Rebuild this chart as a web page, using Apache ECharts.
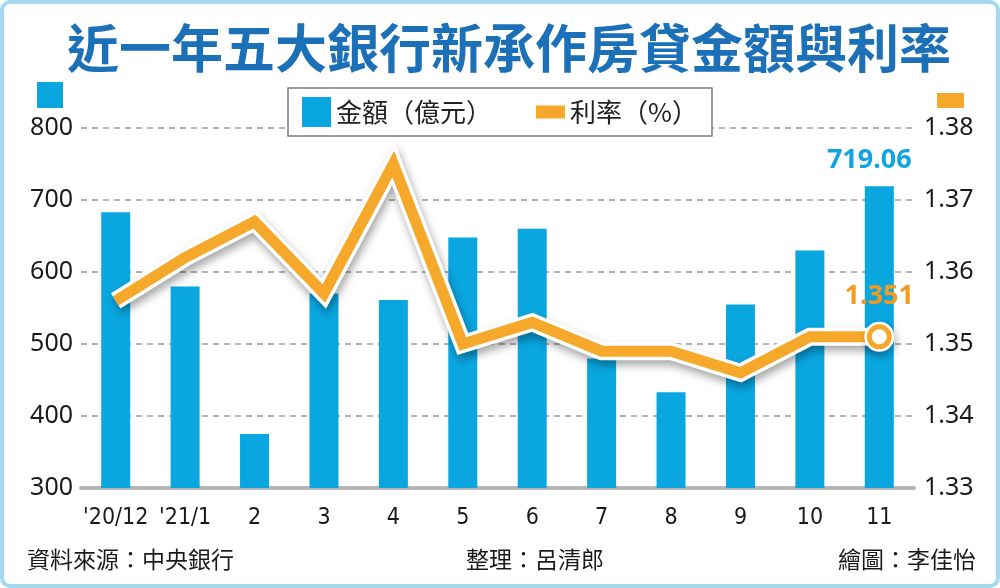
<!DOCTYPE html>
<html>
<head>
<meta charset="utf-8">
<script src="https://cdn.jsdelivr.net/npm/echarts@6/dist/echarts.min.js"></script>
<style>
  html, body { margin: 0; padding: 0; background: #fff; }
  #chart { width: 1000px; height: 588px; }
</style>
</head>
<body>
<div id="chart"></div>
<script>
// 月份
var months = ["'20/12", "'21/1", '2', '3', '4', '5', '6', '7', '8', '9', '10', '11'];
// 金額(億元)
var amount = [683, 580, 375, 570, 561, 648, 660, 480, 433, 555, 630, 719.06];
// 利率(%)
var rate = [1.356, 1.362, 1.367, 1.357, 1.375, 1.350, 1.353, 1.349, 1.349, 1.346, 1.351, 1.351];

var blue = '#0aa6e0';
var orange = '#f6a82a';
var numFont = "'Noto Sans', sans-serif";
var narrowFont = "'DejaVu Sans Condensed', 'Noto Sans', sans-serif";
var cjkFont = "'Noto Sans CJK TC', 'Noto Sans CJK SC', sans-serif";
var last = months.length - 1;

var option = {
    animation: false,
    title: {
        text: '近一年五大銀行新承作房貸金額與利率',
        left: 62,
        top: 17,
        textStyle: {
            color: '#1c70b8',
            fontSize: 52,
            fontWeight: 'bold',
            fontFamily: cjkFont
        }
    },
    legend: {
        left: 'center',
        top: 88,
        padding: [9, 14],
        itemWidth: 29,
        itemHeight: 30,
        itemGap: 44,
        symbolKeepAspect: true,
        backgroundColor: '#fff',
        borderColor: '#7a7a7a',
        borderWidth: 1.5,
        textStyle: { fontSize: 26, color: '#222', fontFamily: cjkFont },
        data: [
            { name: '金額（億元）', icon: 'rect', itemStyle: { color: blue } },
            { name: '利率（%）', icon: 'path://M0,0H29V13H0Z', itemStyle: { color: orange } }
        ]
    },
    grid: { left: 81, right: 86, top: 128, bottom: 100 },
    xAxis: {
        type: 'category',
        data: months,
        axisLine: { lineStyle: { color: '#b5b5b5', width: 4 } },
        axisTick: { alignWithLabel: true, length: 11, lineStyle: { color: '#b0b0b0', width: 2 } },
        axisLabel: { interval: 0, color: '#1a1a1a', fontSize: 23, margin: 19, fontFamily: narrowFont }
    },
    yAxis: [
        {
            type: 'value',
            min: 300, max: 800, interval: 100,
            axisLabel: { color: '#1a1a1a', fontSize: 25, margin: 8, fontFamily: numFont },
            splitLine: { lineStyle: { color: '#999', width: 1.5, type: [6, 5] } }
        },
        {
            type: 'value',
            min: 1.33, max: 1.38, interval: 0.01,
            axisLabel: {
                color: '#1a1a1a', fontSize: 25, margin: 10, fontFamily: numFont,
                formatter: function (v) { return v.toFixed(2); }
            },
            splitLine: { show: false }
        }
    ],
    series: [
        {
            name: '金額（億元）',
            type: 'bar',
            barWidth: 29,
            itemStyle: { color: blue },
            data: amount.map(function (v, i) {
                if (i !== last) return v;
                return {
                    value: v,
                    label: {
                        show: true, position: 'top', distance: 12, offset: [-10, 0],
                        color: '#12a4df', fontSize: 27, fontWeight: 'bold', fontFamily: numFont
                    }
                };
            })
        },
        {
            // 白色外框 + 陰影
            name: 'outline',
            type: 'line',
            yAxisIndex: 1,
            symbol: 'none',
            silent: true,
            lineStyle: {
                color: '#fff', width: 18, join: 'miter', miterLimit: 6,
                shadowColor: 'rgba(0,0,0,0.35)', shadowBlur: 9, shadowOffsetX: 2, shadowOffsetY: 5
            },
            data: rate.map(function (v, i) {
                if (i !== last) return v;
                return {
                    value: v, symbol: 'circle', symbolSize: 30,
                    itemStyle: { color: '#fff', shadowColor: 'rgba(0,0,0,0.3)', shadowBlur: 8, shadowOffsetX: 2, shadowOffsetY: 4 }
                };
            })
        },
        {
            name: '利率（%）',
            type: 'line',
            yAxisIndex: 1,
            symbol: 'none',
            lineStyle: { color: orange, width: 11, join: 'miter', miterLimit: 6 },
            itemStyle: { color: orange },
            data: rate.map(function (v, i) {
                if (i !== last) return v;
                return {
                    value: v, symbol: 'circle', symbolSize: 20,
                    itemStyle: { color: '#fff', borderColor: orange, borderWidth: 5 },
                    label: {
                        show: true, position: 'top', distance: 14,
                        color: '#f39a1f', fontSize: 27, fontWeight: 'bold', fontFamily: numFont,
                        formatter: function (p) { return p.value.toFixed(3); }
                    }
                };
            })
        }
    ],
    graphic: [
        {
            type: 'rect', z: -10, silent: true,
            shape: { x: 2, y: 2, width: 996, height: 584, r: 8 },
            style: { fill: '#fff', stroke: '#a5d9f2', lineWidth: 4 }
        },
        // 軸名稱色塊
        { type: 'rect', shape: { x: 37, y: 82, width: 26, height: 26 }, style: { fill: blue } },
        { type: 'rect', shape: { x: 937, y: 93, width: 27, height: 15 }, style: { fill: orange } },
        {
            type: 'text', left: 27, top: 548,
            style: { text: '資料來源：中央銀行', fontSize: 23, fill: '#1a1a1a', fontFamily: cjkFont }
        },
        {
            type: 'text', left: 466, top: 548,
            style: { text: '整理：呂清郎', fontSize: 23, fill: '#1a1a1a', fontFamily: cjkFont }
        },
        {
            type: 'text', right: 24, top: 548,
            style: { text: '繪圖：李佳怡', fontSize: 23, fill: '#1a1a1a', fontFamily: cjkFont }
        }
    ]
};

var chart = echarts.init(document.getElementById('chart'));
chart.setOption(option);
</script>
</body>
</html>
